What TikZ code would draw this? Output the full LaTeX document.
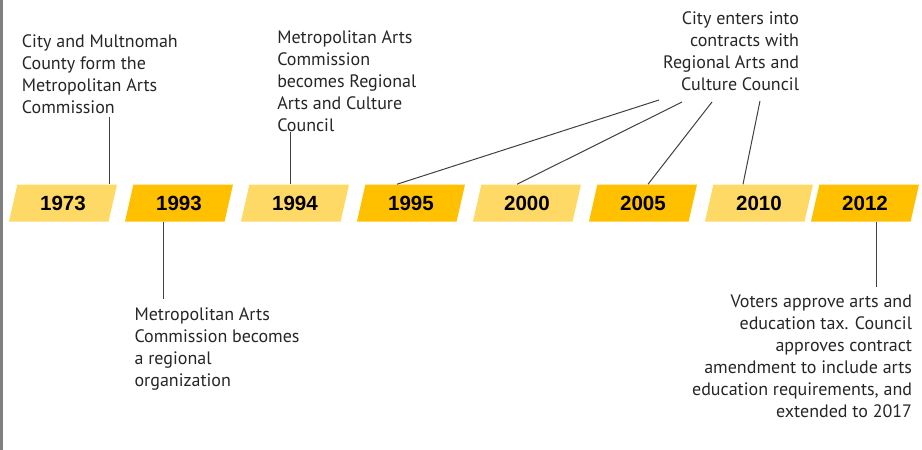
\documentclass[tikz,border=0pt]{standalone}
\usepackage{fontspec}
\usepackage{tikz}
\usetikzlibrary{shapes.geometric,calc}
\newfontfamily\notefont{PT Sans}
\newfontfamily\yearfont{Liberation Sans}
\definecolor{yrlight}{HTML}{FFD966}
\definecolor{yrdark}{HTML}{FFC000}
\definecolor{linkgray}{HTML}{404040}
\tikzset{
	yearbox/.style={trapezium, trapezium left angle=60, trapezium right angle=120,
		trapezium stretches body, minimum width=81pt, minimum height=27.75pt,
		inner sep=0pt, font=\yearfont\bfseries\fontsize{15.4}{18}\selectfont},
	note/.style={inner sep=0pt, text=black!85,
		font=\notefont\fontsize{13.5}{16.5}\selectfont},
	link/.style={draw=linkgray, line width=0.75pt}
}

\begin{document}
\begin{tikzpicture}[x=0.75pt, y=-0.75pt]
	\useasboundingbox (0,0) rectangle (922,450);
	\fill[gray] (0,0) rectangle (2.5,450);
	% year boxes
	\foreach \x/\yr/\c in {63/1973/yrlight, 179/1993/yrdark, 295/1994/yrlight,
		411/1995/yrdark, 527/2000/yrlight, 643/2005/yrdark, 759/2010/yrlight, 865/2012/yrdark}
	\node[yearbox, fill=\c] (y\yr) at (\x, 203) {\yr};
	% notes
	\node[note, anchor=north west, align=left] (n1973) at (21.7, 34.5)
		{City and Multnomah\\County form the\\Metropolitan Arts\\Commission};
	\node[note, anchor=north west, align=left] (n1994) at (277, 30)
		{Metropolitan Arts\\Commission\\becomes Regional\\Arts and Culture\\Council};
	\node[note, anchor=north east, align=right] (n1995) at (799.3, 11)
		{City enters into\\contracts with\\Regional Arts and\\Culture Council};
	\node[note, anchor=north west, align=left] (n1993) at (134.3, 307.5)
		{Metropolitan Arts\\Commission becomes\\a regional\\organization};
	\node[note, anchor=north east, align=right] (n2012) at (912.3, 294.5)
		{Voters approve arts and\\education tax. Council\\approves contract\\amendment to include arts\\education requirements, and\\extended to 2017};
	% connectors
	\coordinate (c1973) at (109, 117);
	\coordinate (c1994) at (290, 131.7);
	\coordinate (c1993) at (163, 299);
	\coordinate (c2012) at (876, 287);
	\draw[link] (c1973) -- (c1973 |- y1973.north);
	\draw[link] (c1994) -- (c1994 |- y1994.north);
	\draw[link] (y1993.south -| c1993) -- (c1993);
	\draw[link] (y2012.south -| c2012) -- (c2012);
	\coordinate (f1995) at (659, 100);
	\coordinate (f2000) at (682, 102);
	\coordinate (f2005) at (712, 102);
	\coordinate (f2010) at (760, 101);
	\foreach \yr/\dx in {1995/-14, 2000/-10, 2005/5, 2010/-16}
	\draw[link] (f\yr) -- ($(y\yr.north)+(\dx,0)$);
\end{tikzpicture}
\end{document}
